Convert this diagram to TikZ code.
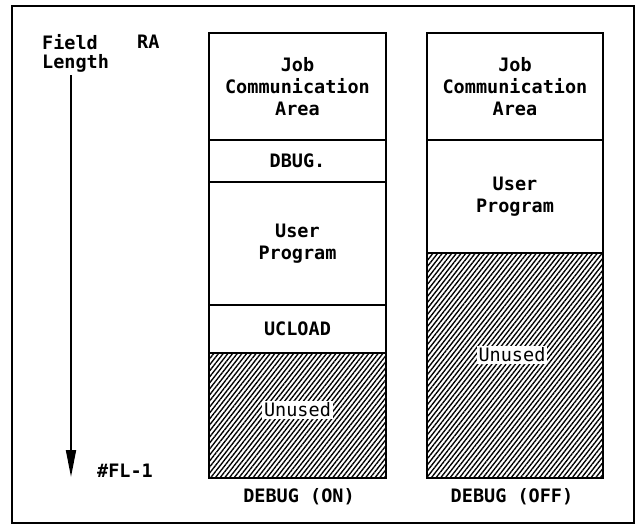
\documentclass[tikz,border=0pt]{standalone}
\usepackage{fontspec}
\setmonofont{DejaVu Sans Mono}
\usetikzlibrary{arrows.meta,patterns.meta}
\tikzset{
  txt/.style={font=\ttfamily\bfseries\fontsize{18.5}{22}\selectfont, inner sep=0pt, align=center},
  seg/.style={draw, line width=2.2pt, inner sep=0pt, align=center, font=\ttfamily\bfseries\fontsize{18.5}{22}\selectfont},
  hatch/.style={draw, line width=2.2pt, pattern={Lines[angle=52,distance=3.7pt,line width=1.35pt]}},
  lab/.style={fill=white, inner sep=2pt, font=\ttfamily\fontsize{18.5}{20}\selectfont},
  memarrow/.style={line width=1.8pt, -{Triangle[length=27pt,width=10pt]}}
}
\begin{document}
\begin{tikzpicture}[x=1pt,y=-1pt]
\useasboundingbox (0,0) rectangle (641,525);
\draw[line width=1.8pt] (12,6) rectangle (634,523);
% left legend
\node[txt, anchor=west] (field) at (42,42) {Field};
\node[txt, anchor=west] (ra) at (137,42) {RA};
\node[txt, anchor=west] (length) at (42,63) {Length};
\coordinate (astart) at (71,75);
\coordinate (aend) at (71,477);
\draw[memarrow] (astart) -- (aend);
\node[txt, anchor=west] (fl) at (97,471) {\#FL-1};
% column 1 (DEBUG ON)
\node[seg, minimum width=177pt, minimum height=107pt] (jca1) at (297.5,86.5) {Job\\Communication\\Area};
\node[seg, minimum width=177pt, minimum height=42pt] (dbug) at (297.5,161) {DBUG.};
\node[seg, minimum width=177pt, minimum height=123pt] (up1) at (297.5,243.5) {User\\Program};
\node[seg, minimum width=177pt, minimum height=48pt] (ucl) at (297.5,329) {UCLOAD};
\node[hatch, minimum width=177pt, minimum height=125pt] (un1) at (297.5,415.5) {};
\node[lab] (un1l) at (297.5,410) {Unused};
\node[txt] (on) at (299,497) {DEBUG (ON)};
% column 2 (DEBUG OFF)
\node[seg, minimum width=176pt, minimum height=107pt] (jca2) at (515,86.5) {Job\\Communication\\Area};
\node[seg, minimum width=176pt, minimum height=113pt] (up2) at (515,196.5) {User\\Program};
\node[hatch, minimum width=176pt, minimum height=225pt] (un2) at (515,365.5) {};
\node[lab] (un2l) at (512,355) {Unused};
\node[txt] (off) at (512,497) {DEBUG (OFF)};
\end{tikzpicture}
\end{document}
